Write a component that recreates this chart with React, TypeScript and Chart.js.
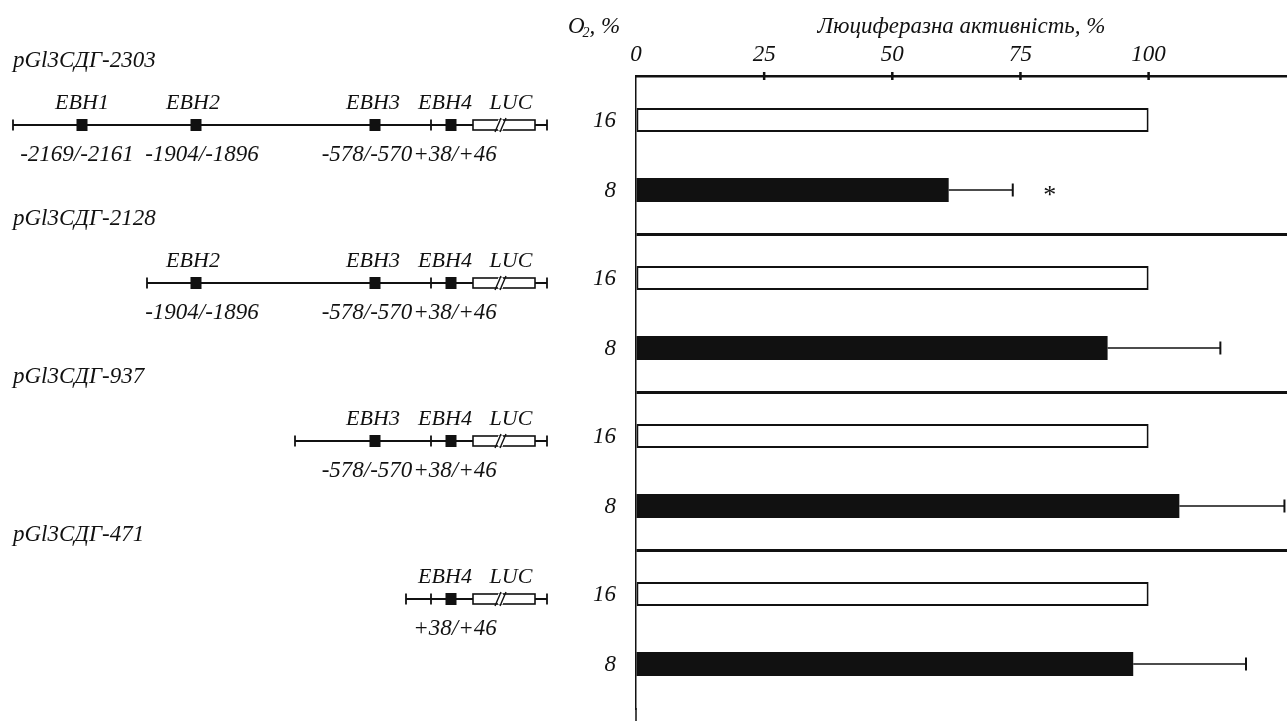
import React, { useEffect, useRef } from "react";
import { Chart, registerables } from "chart.js";

Chart.register(...registerables);

// ---------- data ----------
const constructs = ["pGl3СДГ-2303", "pGl3СДГ-2128", "pGl3СДГ-937", "pGl3СДГ-471"];
const o2Levels = ["16", "8"];
const normoxiaActivity = [100, 100, 100, 100];
const hypoxiaActivity = [61, 92, 106, 97];
const hypoxiaError = [12.5, 22, 20.5, 22];
const significance = ["*", "", "", ""];
const xTicks = [0, 25, 50, 75, 100];
const xAxisTitle = "Люциферазна активність, %";
const siteNames = ["ЕВН1", "ЕВН2", "ЕВН3", "ЕВН4"];
const siteCoords = ["-2169/-2161", "-1904/-1896", "-578/-570", "+38/+46"];
const constructSites = [[0, 1, 2, 3], [1, 2, 3], [2, 3], [3]];

// ---------- layout (schematic map, pixels) ----------
const FONT = "'Liberation Serif', 'DejaVu Serif', serif";
const MAP = {
  nameX: 13,
  startX: [13, 147, 295, 406],
  siteX: [82, 196, 375, 451],
  siteLabelX: [82, 193, 373, 445],
  coordX: [77, 202, 367, 455],
  tssX: 431,
  lucX0: 473,
  lucX1: 535,
  lucLabelX: 511,
  breakX: 501,
  endX: 547,
  nameDy: -94,
  labelDy: -52,
  lineDy: -30,
  coordDy: 0,
};

const mapPlugin = {
  id: "geneMaps",
  afterDraw(chart: any) {
    const ctx = chart.ctx;
    const y = chart.scales.y;
    ctx.save();
    ctx.fillStyle = "#111";
    ctx.strokeStyle = "#111";
    ctx.textBaseline = "middle";
    constructs.forEach((name, i) => {
      const cy = y.getPixelForValue(i);
      const ly = cy + MAP.lineDy;
      // name
      ctx.font = `italic 23px ${FONT}`;
      ctx.textAlign = "left";
      ctx.fillText(name, MAP.nameX, cy + MAP.nameDy);
      // main line
      ctx.lineWidth = 1.8;
      ctx.beginPath();
      ctx.moveTo(MAP.startX[i], ly);
      ctx.lineTo(MAP.endX, ly);
      ctx.stroke();
      // end ticks and TSS tick
      [MAP.startX[i], MAP.tssX, MAP.endX].forEach((tx) => {
        ctx.beginPath();
        ctx.moveTo(tx, ly - 5.5);
        ctx.lineTo(tx, ly + 5.5);
        ctx.stroke();
      });
      // sites
      ctx.textAlign = "center";
      constructSites[i].forEach((s) => {
        ctx.fillRect(MAP.siteX[s] - 5.5, ly - 6, 11, 12);
        ctx.font = `italic 22px ${FONT}`;
        ctx.fillText(siteNames[s], MAP.siteLabelX[s], cy + MAP.labelDy);
        ctx.font = `italic 23px ${FONT}`;
        ctx.fillText(siteCoords[s], MAP.coordX[s], cy + MAP.coordDy);
      });
      // LUC box
      ctx.lineWidth = 1.6;
      ctx.fillStyle = "#fff";
      ctx.fillRect(MAP.lucX0, ly - 5, MAP.lucX1 - MAP.lucX0, 10);
      ctx.fillStyle = "#111";
      ctx.strokeRect(MAP.lucX0, ly - 5, MAP.lucX1 - MAP.lucX0, 10);
      // break mark
      ctx.fillStyle = "#fff";
      ctx.fillRect(MAP.breakX - 3, ly - 5.5, 5, 11);
      ctx.fillStyle = "#111";
      ctx.lineWidth = 1.4;
      [-3, 2].forEach((d) => {
        ctx.beginPath();
        ctx.moveTo(MAP.breakX + d - 3, ly + 7);
        ctx.lineTo(MAP.breakX + d + 3, ly - 7);
        ctx.stroke();
      });
      ctx.font = `italic 22px ${FONT}`;
      ctx.fillText("LUC", MAP.lucLabelX, cy + MAP.labelDy);
    });
    ctx.restore();
  },
};

const annotPlugin = {
  id: "annotations",
  afterDatasetsDraw(chart: any) {
    const ctx = chart.ctx;
    const xs = chart.scales.x;
    const area = chart.chartArea;
    ctx.save();
    ctx.fillStyle = "#111";
    ctx.strokeStyle = "#111";
    // O2 label
    ctx.textBaseline = "middle";
    ctx.textAlign = "left";
    ctx.font = `italic 23px ${FONT}`;
    ctx.fillText("O", 568, 27);
    const oW = ctx.measureText("O").width;
    ctx.font = `italic 14px ${FONT}`;
    ctx.fillText("2", 568 + oW - 2, 33);
    const sW = ctx.measureText("2").width;
    ctx.font = `italic 23px ${FONT}`;
    ctx.fillText(", %", 568 + oW - 2 + sW, 27);
    // bar labels (O2 level)
    ctx.textAlign = "right";
    chart.data.datasets.forEach((ds: any, di: number) => {
      const meta = chart.getDatasetMeta(di);
      meta.data.forEach((bar: any) => {
        ctx.fillText(ds.label, area.left - 20, bar.y + 1);
      });
    });
    // error bars
    const meta = chart.getDatasetMeta(1);
    meta.data.forEach((bar: any, i: number) => {
      const xe = xs.getPixelForValue(hypoxiaActivity[i] + hypoxiaError[i]);
      ctx.lineWidth = 1.5;
      ctx.beginPath();
      ctx.moveTo(bar.x, bar.y);
      ctx.lineTo(xe, bar.y);
      ctx.stroke();
      ctx.lineWidth = 2;
      ctx.beginPath();
      ctx.moveTo(xe, bar.y - 6.5);
      ctx.lineTo(xe, bar.y + 6.5);
      ctx.stroke();
      if (significance[i]) {
        ctx.textAlign = "center";
        ctx.font = `26px ${FONT}`;
        ctx.fillText(significance[i], xe + 37, bar.y + 6);
      }
    });
    // x tick marks crossing the axis
    ctx.lineWidth = 2.5;
    xTicks.forEach((v) => {
      if (v === 0) return;
      const px = xs.getPixelForValue(v);
      ctx.beginPath();
      ctx.moveTo(px, area.top - 4);
      ctx.lineTo(px, area.top + 4);
      ctx.stroke();
    });
    // extend vertical axis to the bottom
    ctx.lineWidth = 1.5;
    ctx.beginPath();
    ctx.moveTo(area.left, area.bottom);
    ctx.lineTo(area.left, chart.height);
    ctx.stroke();
    ctx.restore();
  },
};

export default function App() {
  const ref = useRef<HTMLCanvasElement | null>(null);
  useEffect(() => {
    if (!ref.current) return;
    const chart = new Chart(ref.current, {
      type: "bar",
      data: {
        labels: constructs,
        datasets: [
          {
            label: o2Levels[0],
            data: normoxiaActivity,
            backgroundColor: "#ffffff",
            borderColor: "#111",
            borderWidth: 2,
            borderSkipped: false,
          },
          {
            label: o2Levels[1],
            data: hypoxiaActivity,
            backgroundColor: "#111",
            borderColor: "#111",
            borderWidth: 0,
          },
        ],
      },
      options: {
        indexAxis: "y",
        animation: false,
        responsive: true,
        maintainAspectRatio: false,
        events: [],
        layout: { padding: { left: 606, right: 0, top: 0, bottom: 13 } },
        datasets: {
          bar: { categoryPercentage: 0.886, barPercentage: 0.343 },
        },
        plugins: {
          legend: { display: false },
          tooltip: { enabled: false },
          title: { display: false },
        },
        scales: {
          x: {
            type: "linear",
            position: "top",
            min: 0,
            max: 127,
            afterBuildTicks: (scale: any) => {
              scale.ticks = xTicks.map((v) => ({ value: v }));
            },
            afterFit: (scale: any) => {
              scale.height = 76;
            },
            ticks: {
              color: "#111",
              padding: 7,
              font: { family: FONT, size: 23, style: "italic" },
            },
            grid: { drawOnChartArea: false, drawTicks: false },
            border: { display: true, color: "#111", width: 2.5 },
            title: {
              display: true,
              text: xAxisTitle,
              color: "#111",
              font: { family: FONT, size: 23, style: "italic" },
              padding: { top: 13, bottom: 0 },
            },
          },
          y: {
            type: "category",
            afterFit: (scale: any) => {
              scale.width = 30;
            },
            ticks: { display: false },
            grid: {
              offset: true,
              drawTicks: false,
              lineWidth: 3,
              color: (c: any) =>
                c.type !== "tick" || c.index === 0 ? "rgba(0,0,0,0)" : "#111",
            },
            border: { display: true, color: "#111", width: 1.5 },
          },
        },
      },
      plugins: [annotPlugin, mapPlugin],
    } as any);
    return () => chart.destroy();
  }, []);
  return (
    <div style={{ position: "absolute", left: 0, top: 0, width: 1287, height: 721, background: "#fff" }}>
      <canvas ref={ref} />
    </div>
  );
}
